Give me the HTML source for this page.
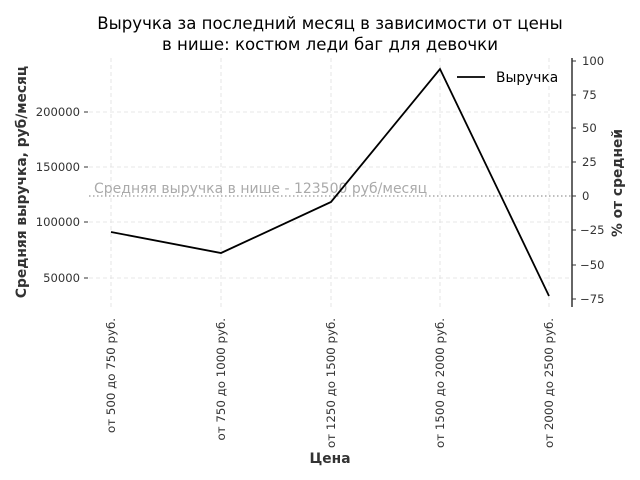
<!DOCTYPE html>
<html><head><meta charset="utf-8"><style>body{margin:0;background:#fff}svg{display:block}</style></head><body>
<svg width="640" height="480" xmlns="http://www.w3.org/2000/svg" font-family="DejaVu Sans, Liberation Sans, sans-serif">
<rect width="640" height="480" fill="#fff"/>
<text x="330" y="29" font-size="16.6" text-anchor="middle" fill="#000">Выручка за последний месяц в зависимости от цены</text>
<text x="330" y="50" font-size="16.6" text-anchor="middle" fill="#000">в нише: костюм леди баг для девочки</text>
<g stroke="#e0e0e0" stroke-width="0.8" stroke-dasharray="4,3">
<line x1="111" y1="58" x2="111" y2="310"/><line x1="221" y1="58" x2="221" y2="310"/><line x1="331" y1="58" x2="331" y2="310"/><line x1="440" y1="58" x2="440" y2="310"/><line x1="549" y1="58" x2="549" y2="310"/>
<line x1="89" y1="112" x2="572" y2="112"/><line x1="89" y1="167" x2="572" y2="167"/><line x1="89" y1="222" x2="572" y2="222"/><line x1="89" y1="278" x2="572" y2="278"/>
</g>
<line x1="89" y1="196" x2="572" y2="196" stroke="#aaa" stroke-width="1.5" stroke-dasharray="1.5,2.5"/>
<text x="94" y="193" font-size="14" fill="#aaa">Средняя выручка в нише - 123500 руб/месяц</text>
<polyline points="111,232 221,253 331,202 440,69 549,296" fill="none" stroke="#000" stroke-width="1.8"/>
<g font-size="11.6" fill="#333" text-anchor="end">
<text x="80" y="116">200000</text><text x="80" y="171">150000</text><text x="80" y="226">100000</text><text x="80" y="282">50000</text>
</g>
<g stroke="#333"><line x1="84" y1="112" x2="88" y2="112"/><line x1="84" y1="167" x2="88" y2="167"/><line x1="84" y1="222" x2="88" y2="222"/><line x1="84" y1="278" x2="88" y2="278"/></g>
<line x1="572" y1="58" x2="572" y2="307" stroke="#000" stroke-width="1.2"/>
<g stroke="#333">
<line x1="572" y1="61" x2="576" y2="61"/><line x1="572" y1="95" x2="576" y2="95"/><line x1="572" y1="128" x2="576" y2="128"/><line x1="572" y1="162" x2="576" y2="162"/><line x1="572" y1="196" x2="576" y2="196"/><line x1="572" y1="230" x2="576" y2="230"/><line x1="572" y1="265" x2="576" y2="265"/><line x1="572" y1="299" x2="576" y2="299"/>
</g>
<g font-size="11.6" fill="#333">
<text x="582" y="65">100</text><text x="582" y="99">75</text><text x="582" y="132">50</text><text x="582" y="166">25</text><text x="582" y="200">0</text><text x="580" y="234">−25</text><text x="580" y="269">−50</text><text x="580" y="303">−75</text>
</g>
<text transform="translate(26,182) rotate(-90)" font-size="13.8" font-weight="bold" fill="#333" text-anchor="middle">Средняя выручка, руб/месяц</text>
<text transform="translate(622,183) rotate(-90)" font-size="13.8" font-weight="bold" fill="#333" text-anchor="middle">% от средней</text>
<line x1="457" y1="77" x2="485" y2="77" stroke="#000" stroke-width="1.8"/>
<text x="496" y="82" font-size="13.8" fill="#000">Выручка</text>
<g font-size="11.8" fill="#333" text-anchor="end">
<text transform="translate(115,318) rotate(-90)">от 500 до 750 руб.</text>
<text transform="translate(225,318) rotate(-90)">от 750 до 1000 руб.</text>
<text transform="translate(335,318) rotate(-90)">от 1250 до 1500 руб.</text>
<text transform="translate(444,318) rotate(-90)">от 1500 до 2000 руб.</text>
<text transform="translate(553,318) rotate(-90)">от 2000 до 2500 руб.</text>
</g>
<text x="330" y="463" font-size="13.8" font-weight="bold" fill="#333" text-anchor="middle">Цена</text>
</svg>
</body></html>
